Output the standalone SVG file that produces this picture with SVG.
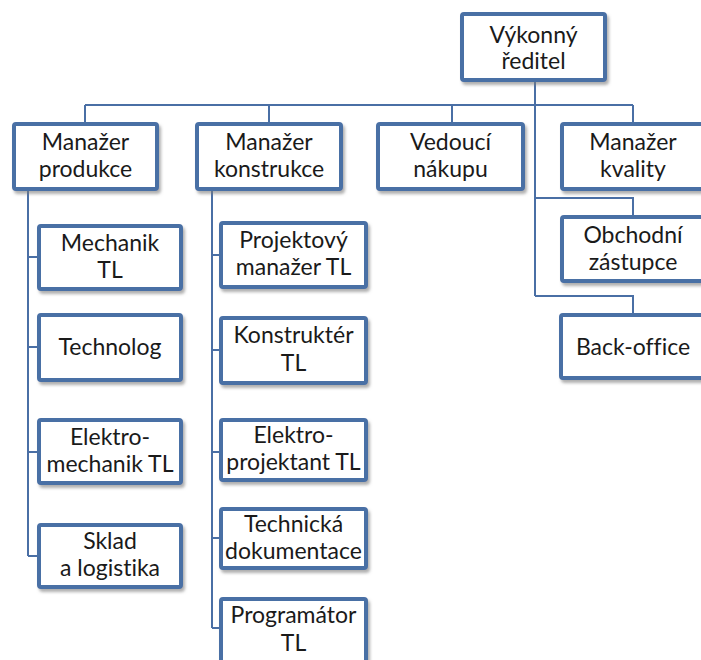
<svg xmlns="http://www.w3.org/2000/svg" width="701" height="660" viewBox="0 0 701 660">
<style>
.box{fill:#fff;stroke:#4a6fa5;stroke-width:4;filter:url(#sh)}
.t{font-family:Lato,"Liberation Sans",sans-serif;font-size:23px;fill:#1a1a1a;text-anchor:middle;font-variant-ligatures:none}
.c{fill:none;stroke:#4a6fa5;stroke-width:2}
</style>
<defs>
<filter id="sh" x="-10%" y="-10%" width="125%" height="130%">
<feDropShadow dx="2" dy="3" stdDeviation="1.5" flood-color="#7a7a7a" flood-opacity="0.6"/>
</filter>
</defs>
<rect width="701" height="660" fill="#fff"/>
<g id="connectors">
<path class="c" d="M535 82V296"/>
<path class="c" d="M85 105H633M85 105V122M269 105V122M452 105V122M633 105V122"/>
<path class="c" d="M535 198H633V215M535 296H633V313"/>
<path class="c" d="M28 191V556M28 257H37M28 347H37M28 452H37M28 556H37"/>
<path class="c" d="M212 191V628M212 255H219M212 350H219M212 452H219M212 538H219M212 628H219"/>
</g>
<g id="ceo"><rect class="box" x="462" y="14" width="143" height="66" rx="2"/><text class="t" x="533.5" y="43">Výkonný</text><text class="t" x="533.5" y="69">ředitel</text></g>
<g id="produkce"><rect class="box" x="14" y="124" width="143" height="65" rx="2"/><text class="t" x="85.5" y="150">Manažer</text><text class="t" x="85.5" y="177">produkce</text></g>
<g id="konstrukce"><rect class="box" x="197" y="124" width="144" height="65" rx="2"/><text class="t" x="269" y="150">Manažer</text><text class="t" x="269" y="177">konstrukce</text></g>
<g id="nakup"><rect class="box" x="378" y="124" width="145" height="65" rx="2"/><text class="t" x="450.5" y="150">Vedoucí</text><text class="t" x="450.5" y="177">nákupu</text></g>
<g id="kvalita"><rect class="box" x="562" y="124" width="142" height="65" rx="2"/><text class="t" x="633" y="150">Manažer</text><text class="t" x="633" y="177">kvality</text></g>
<g id="obchod"><rect class="box" x="562" y="217" width="142" height="64" rx="2"/><text class="t" x="633" y="243">Obchodní</text><text class="t" x="633" y="270">zástupce</text></g>
<g id="backoffice"><rect class="box" x="561" y="315" width="143" height="63" rx="2"/><text class="t" x="633" y="355">Back-office</text></g>
<g id="mechanik"><rect class="box" x="39" y="226" width="142" height="63" rx="2"/><text class="t" x="110" y="251">Mechanik</text><text class="t" x="110" y="278">TL</text></g>
<g id="technolog"><rect class="box" x="39" y="315" width="142" height="65" rx="2"/><text class="t" x="110" y="355">Technolog</text></g>
<g id="elektromechanik"><rect class="box" x="39" y="420" width="142" height="63" rx="2"/><text class="t" x="110" y="445">Elektro-</text><text class="t" x="110" y="472">mechanik TL</text></g>
<g id="sklad"><rect class="box" x="39" y="525" width="142" height="62" rx="2"/><text class="t" x="110" y="549">Sklad</text><text class="t" x="110" y="576">a logistika</text></g>
<g id="projektovy"><rect class="box" x="221" y="223" width="145" height="64" rx="2"/><text class="t" x="293.5" y="248">Projektový</text><text class="t" x="293.5" y="275">manažer TL</text></g>
<g id="konstrukter"><rect class="box" x="221" y="318" width="145" height="65" rx="2"/><text class="t" x="293.5" y="343">Konstruktér</text><text class="t" x="293.5" y="371">TL</text></g>
<g id="elektroprojektant"><rect class="box" x="221" y="420" width="145" height="60" rx="2"/><text class="t" x="293.5" y="443">Elektro-</text><text class="t" x="293.5" y="470">projektant TL</text></g>
<g id="dokumentace"><rect class="box" x="221" y="509" width="145" height="59" rx="2"/><text class="t" x="293.5" y="532">Technická</text><text class="t" x="293.5" y="559">dokumentace</text></g>
<g id="programator"><rect class="box" x="221" y="599" width="145" height="66" rx="2"/><text class="t" x="293.5" y="623">Programátor</text><text class="t" x="293.5" y="651">TL</text></g>
</svg>
